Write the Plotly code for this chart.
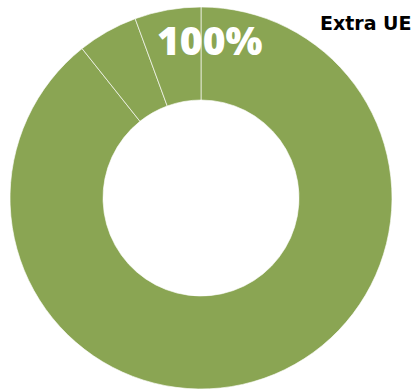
import plotly.graph_objects as go

labels = ["Extra UE", "Altro 1", "Altro 2"]
values = [89.3, 5.1, 5.6]
center_text = "100%"
legend_text = "Extra UE"
color = "#8AA553"

fig = go.Figure(go.Pie(
    labels=labels,
    values=values,
    hole=0.513,
    sort=False,
    direction="clockwise",
    rotation=0,
    textinfo="none",
    hoverinfo="label+percent",
    marker=dict(colors=[color] * len(values), line=dict(color="rgba(255,255,255,0.8)", width=0.8)),
    domain=dict(x=[10 / 420, 392 / 420], y=[0, 382 / 389]),
    showlegend=False,
))

fig.add_annotation(
    text=center_text, x=210 / 420, y=1 - 39 / 389, xref="paper", yref="paper",
    showarrow=False, xanchor="center", yanchor="middle",
    font=dict(family="Open Sans", size=39, color="white", weight=800),
)
fig.add_annotation(
    text=legend_text, x=414 / 420, y=1 - 23 / 389, xref="paper", yref="paper",
    showarrow=False, xanchor="right", yanchor="middle",
    font=dict(family="DejaVu Sans", size=19, color="black", weight="bold"),
)

fig.update_layout(
    width=420, height=389,
    margin=dict(l=0, r=0, t=0, b=0),
    paper_bgcolor="white", plot_bgcolor="white",
)
fig.write_html(
    "out.html",
    config={"displayModeBar": False},
    post_script="document.body.style.margin='0';document.body.style.overflow='hidden';",
)
